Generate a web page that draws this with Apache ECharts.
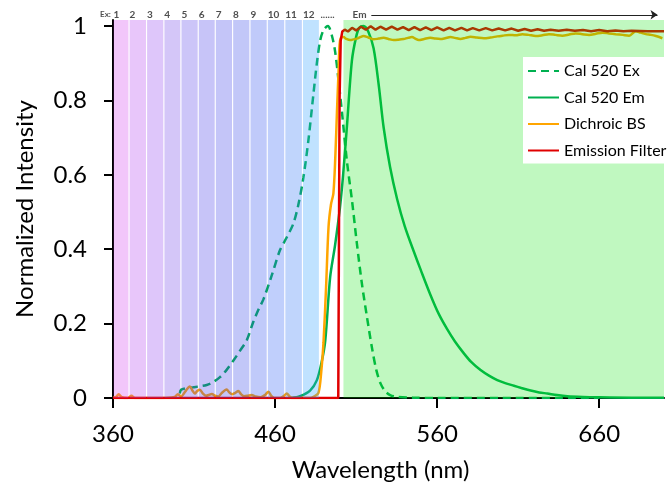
<!DOCTYPE html>
<html>
<head>
<meta charset="utf-8">
<script src="https://cdn.jsdelivr.net/npm/echarts@6/dist/echarts.min.js"></script>
<style>
html,body{margin:0;padding:0;background:#fff;}
#chart{width:667px;height:487px;}
</style>
</head>
<body>
<div id="chart"></div>
<script>
// ---- Data ----
var exSpectrum = [
  [401.2,0.012],[402,0.022],[405,0.026],[409.5,0.029],[413,0.031],[417.8,0.035],[421.5,0.042],[426,0.056],
  [430,0.075],[434.2,0.1],[438.5,0.128],[442.5,0.155],[446.6,0.205],[450,0.24],[452.8,0.265],[458,0.33],
  [463,0.397],[467,0.43],[471.3,0.469],[474.4,0.52],[477.5,0.593],[480.5,0.69],[483.7,0.818],[485.8,0.9],
  [487.8,0.96],[490,0.99],[492.6,1.0],[495,0.975],[497,0.933],[499,0.86],[501.2,0.772],[504.3,0.638],
  [507.5,0.53],[510.5,0.415],[513.5,0.31],[516.7,0.218],[520,0.13],[522.5,0.075],[525,0.04],[528,0.018],
  [531,0.008],[535.3,0.003],[545,0.001],[560,0],[600,0],[660,0]
];
var emSpectrum = [
  [470,0],[475.4,0.005],[481.6,0.02],[485.8,0.048],[488.9,0.1],[491,0.155],[494,0.325],[497,0.41],
  [500,0.51],[502,0.6],[504.3,0.727],[507.4,0.906],[510,0.97],[512,0.995],[514.6,1.0],[517.5,0.985],
  [520.8,0.94],[524,0.84],[527,0.727],[531,0.62],[535.3,0.535],[540,0.462],[545.5,0.395],[550,0.343],
  [555.9,0.277],[561,0.226],[566.2,0.185],[571,0.152],[576.5,0.12],[581,0.097],[586.8,0.075],[592,0.06],
  [597.1,0.048],[602,0.04],[607.4,0.033],[612,0.027],[617.7,0.02],[623,0.015],[628,0.012],[634,0.008],
  [640.4,0.005],[650,0.003],[659,0.002],[680,0.001],[700,0.001]
];
var dichroicBS = [
  [360,0],[362,0.003],[363.5,0.01],[365.5,0.002],[369,0],[371.4,0.006],[373.5,0],[390,0],[398,0.003],
  [400,0.01],[402,0.004],[405,0.02],[407.4,0.031],[409,0.02],[410.5,0.012],[412,0.019],[413.6,0.022],
  [415.5,0.012],[417.5,0.006],[419,0.008],[421,0.011],[423,0.006],[425,0.004],[427,0.013],[430.1,0.023],
  [431.8,0.015],[433.5,0.01],[435.5,0.014],[437.3,0.019],[439,0.01],[440.8,0.005],[443,0.006],[445.6,0.008],
  [448,0.004],[451,0.002],[453.8,0.008],[455.9,0.017],[457.6,0.006],[459.5,0],[463,0],[465.5,0.006],
  [467.2,0.012],[469,0.004],[471,0],[481.6,0],[484,0.004],[486.8,0.014],[488.5,0.07],[489.9,0.15],
  [491.5,0.3],[493,0.46],[494.5,0.52],[496,0.55],[497.2,0.65],[498.2,0.77],[499.2,0.88],[499.8,0.95],
  [500.6,0.968],[502.2,0.97],[504,0.965],[506.4,0.962],[508.5,0.964],[510.5,0.966],[512.5,0.97],[514.6,0.973],
  [517.5,0.969],[520.8,0.964],[524,0.966],[527,0.968],[530,0.965],[533.2,0.962],[536,0.963],[539.3,0.965],
  [542,0.968],[544.5,0.97],[546.5,0.966],[548.6,0.962],[552,0.965],[555.8,0.968],[559,0.966],[562,0.965],
  [565,0.967],[568.2,0.97],[571,0.968],[574.4,0.965],[577.5,0.968],[580.6,0.971],[584.5,0.969],[588.8,0.967],
  [593,0.969],[597.1,0.972],[600.5,0.974],[604.3,0.976],[608.5,0.975],[612.6,0.978],[616.5,0.976],[620.8,0.973],
  [625,0.975],[629,0.978],[633,0.976],[637.3,0.974],[641.5,0.977],[645.5,0.98],[649.5,0.978],[653.8,0.976],
  [658,0.979],[662,0.982],[666,0.98],[670.2,0.978],[674.5,0.976],[678.5,0.974],[682.6,0.986],[685.5,0.982],
  [688.8,0.978],[692,0.976],[695,0.973],[699,0.967]
];
var emissionFilter = [
  [360,0],[499,0],[499.3,0.3],[499.8,0.8],[500.5,0.96],[501.5,0.985],[503,0.99],[505,0.985],[507.5,0.995],
  [510,0.988],[513,0.998],[516,0.99],[519,0.999],[522,0.99],[525,0.998],[528.5,0.99],[532,0.998],[535.5,0.99],
  [539,0.997],[542.5,0.989],[546,0.997],[549.5,0.989],[553,0.996],[556.5,0.989],[560,0.996],[564,0.988],
  [567.5,0.995],[571,0.988],[575,0.995],[578.5,0.988],[582,0.994],[586,0.988],[590,0.994],[594,0.988],
  [598,0.993],[602,0.988],[606,0.993],[610,0.987],[614,0.992],[618,0.987],[622,0.991],[626,0.987],[630,0.99],
  [635,0.987],[640,0.99],[645,0.987],[650,0.989],[655,0.986],[660,0.989],[665,0.986],[670,0.988],[675,0.986],
  [680,0.987],[690,0.986],[700,0.986]
];
var seriesNames = ['Cal 520 Ex','Cal 520 Em','Dichroic BS','Emission Filter'];
var seriesColors = ['#00B050','#00B050','#FFA500','#E00000'];
// Excitation bands (nm edges) and emission window
var exBandEdges = [360,369.9,380.7,391.4,401.9,412.6,423.1,433.8,444.5,455.2,466.0,476.9,487.4];
var exBandLabels = ['1','2','3','4','5','6','7','8','9','10','11','12'];
var exBandColors = [
  'rgba(212,65,238,0.3)','rgba(178,65,238,0.3)','rgba(145,65,238,0.3)','rgba(112,65,232,0.3)',
  'rgba(85,62,232,0.3)','rgba(68,60,232,0.3)','rgba(58,62,232,0.3)','rgba(52,68,232,0.3)',
  'rgba(45,80,240,0.3)','rgba(45,95,245,0.3)','rgba(45,115,245,0.3)','rgba(45,160,255,0.3)'
];
var emWindow = [502.2, 700];
var yTicks = [0,0.2,0.4,0.6,0.8,1];
var xTicks = [360,460,560,660];
var annotationY = 1.03;

// ---- Build options ----
var FONT = 'Lato';
var bandAreas = [];
for (var i = 0; i < exBandLabels.length; i++) {
  bandAreas.push([
    {xAxis: exBandEdges[i] + 0.35, yAxis: 0, itemStyle: {color: exBandColors[i]}},
    {xAxis: exBandEdges[i+1] - 0.35, yAxis: 1.016}
  ]);
}
bandAreas.push([
  {xAxis: emWindow[0], yAxis: 0, itemStyle: {color: 'rgba(3,227,3,0.25)'}},
  {xAxis: emWindow[1], yAxis: 1.016}
]);
var topLabels = [{value: [352, annotationY, 'Ex:'], label: {fontSize: 8}}];
for (var j = 0; j < exBandLabels.length; j++) {
  topLabels.push({value: [exBandEdges[j] + 0.3, annotationY, exBandLabels[j]], label: {fontSize: 10}});
}
topLabels.push({value: [488, annotationY, '......'], label: {fontSize: 10}});
topLabels.push({value: [507.8, annotationY, 'Em'], label: {fontSize: 10}});

var dataSets = [exSpectrum, emSpectrum, dichroicBS, emissionFilter];
var series = [];
for (var k = 0; k < 4; k++) {
  series.push({
    name: seriesNames[k], type: 'line', data: dataSets[k], showSymbol: false, symbol: 'none',
    smooth: k === 3 ? false : 0.3, z: 2 + k * 0.1,
    lineStyle: {color: seriesColors[k], width: 2.5, type: k === 0 ? [8, 5] : 'solid'},
    itemStyle: {color: seriesColors[k]}, silent: true
  });
}
series.push({
  name: 'overlay', type: 'line', data: [], silent: true,
  markArea: {z: 5, silent: true, label: {show: false}, itemStyle: {borderWidth: 0}, data: bandAreas}
});
series.push({
  name: 'labels', type: 'scatter', data: topLabels, symbolSize: 0, clip: false, silent: true,
  label: {
    show: true, position: [0, 0], align: 'left', verticalAlign: 'middle',
    fontFamily: FONT, fontWeight: 'bold', color: '#222',
    formatter: function (p) { return p.value[2]; }
  }
});
series.push({
  name: 'arrow', type: 'lines', coordinateSystem: 'cartesian2d', clip: false, silent: true,
  symbol: ['none', 'arrow'], symbolSize: 7,
  lineStyle: {color: '#222', width: 1, opacity: 1},
  data: [{coords: [[519.4, annotationY], [696, annotationY]]}]
});

var chart = echarts.init(document.getElementById('chart'), null, {renderer: 'canvas'});
chart.setOption({
  animation: false,
  backgroundColor: '#fff',
  textStyle: {fontFamily: FONT},
  grid: {left: 113, right: 3, top: 20, bottom: 89, containLabel: false},
  legend: {
    data: seriesNames, orient: 'vertical', left: 523, top: 57, z: 10,
    backgroundColor: '#fff', padding: [6, 12, 5, 4], itemWidth: 31, itemHeight: 14, itemGap: 10.5,
    itemStyle: {opacity: 0},
    textStyle: {fontFamily: FONT, fontSize: 16, color: '#000'}, selectedMode: false
  },
  xAxis: {
    type: 'value', min: 360, max: 700, interval: 100,
    name: 'Wavelength (nm)', nameLocation: 'middle', nameGap: 60,
    nameTextStyle: {fontFamily: FONT, fontSize: 24, color: '#000', padding: [0, 16, 0, 0]},
    axisLine: {lineStyle: {color: '#000', width: 2}},
    axisTick: {length: 10, lineStyle: {color: '#000', width: 2}, customValues: xTicks},
    axisLabel: {fontFamily: FONT, fontSize: 24, color: '#000', margin: 24, customValues: xTicks},
    splitLine: {show: false}
  },
  yAxis: {
    type: 'value', min: 0, max: 1.016, interval: 0.2,
    name: 'Normalized Intensity', nameLocation: 'middle', nameGap: 76,
    nameTextStyle: {fontFamily: FONT, fontSize: 24, color: '#000'},
    axisLine: {show: true, lineStyle: {color: '#000', width: 2}},
    axisTick: {show: true, length: 9, lineStyle: {color: '#000', width: 2}, customValues: yTicks},
    axisLabel: {fontFamily: FONT, fontSize: 24, color: '#000', margin: 26, customValues: yTicks,
      formatter: function (v) { return String(Math.round(v * 10) / 10); }},
    splitLine: {show: false}
  },
  series: series
});
</script>
</body>
</html>
